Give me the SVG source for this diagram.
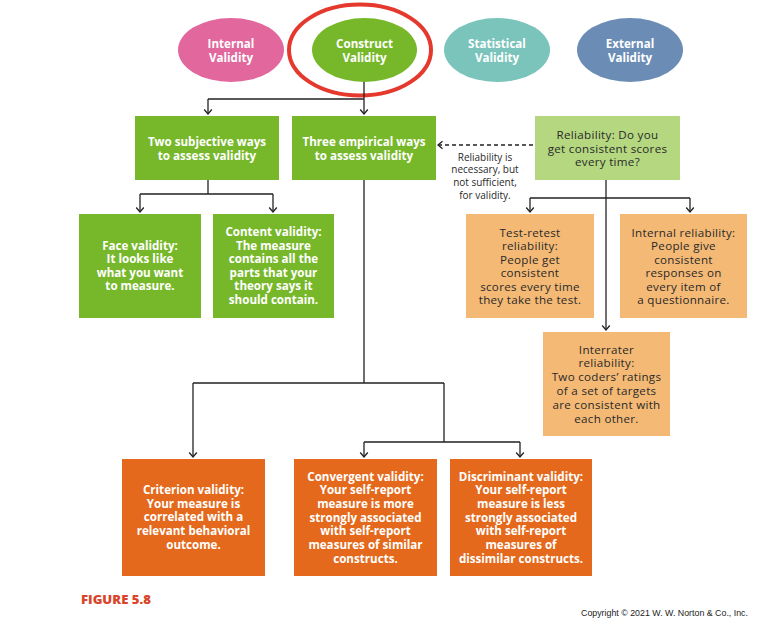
<svg xmlns="http://www.w3.org/2000/svg" width="772" height="636" viewBox="0 0 772 636">
<defs>
<marker id="ah" viewBox="0 0 10 10" refX="9" refY="5" markerWidth="10" markerHeight="10" markerUnits="userSpaceOnUse" orient="auto">
<path d="M4.5,1.2 L9,5 L4.5,8.8" fill="none" stroke="#222" stroke-width="1.3"/>
</marker>
</defs>
<style>
.w{font-family:"Open Sans","Liberation Sans",Arial,sans-serif;font-weight:700;font-size:11.6px;fill:#fff;text-anchor:middle}
.d{font-family:"Open Sans","Liberation Sans",Arial,sans-serif;font-weight:400;font-size:11.6px;letter-spacing:0.3px;fill:#2a2a2a;text-anchor:middle}
.n{font-family:"Open Sans","Liberation Sans",Arial,sans-serif;font-weight:400;font-size:10px;fill:#2a2a2a;text-anchor:middle}
.g{fill:#77b82b}
.lg{fill:#b4d780}
.lo{fill:#f4b975}
.do{fill:#e4691c}
.c{fill:none;stroke:#222;stroke-width:1.3}
</style>
<rect width="772" height="636" fill="#fff"/>

<g id="internal-validity">
<ellipse cx="231" cy="50" rx="53" ry="32" fill="#e1679d"/>
<text class="w" x="231" y="48">Internal</text>
<text class="w" x="231" y="62">Validity</text>
</g>
<g id="construct-validity">
<ellipse cx="364.5" cy="50" rx="52.5" ry="32" fill="#77b82b"/>
<text class="w" x="364.5" y="48">Construct</text>
<text class="w" x="364.5" y="62">Validity</text>
<ellipse cx="360" cy="50" rx="71" ry="45.5" fill="none" stroke="#e4392c" stroke-width="4"/>
</g>
<g id="statistical-validity">
<ellipse cx="497" cy="50" rx="53" ry="32" fill="#7ac4bb"/>
<text class="w" x="497" y="48">Statistical</text>
<text class="w" x="497" y="62">Validity</text>
</g>
<g id="external-validity">
<ellipse cx="630" cy="50" rx="53" ry="32" fill="#6b8db5"/>
<text class="w" x="630" y="48">External</text>
<text class="w" x="630" y="62">Validity</text>
</g>

<g id="connectors">
<path class="c" d="M364,82 V99 M208,99 H364"/>
<path class="c" d="M208,99 V114" marker-end="url(#ah)"/>
<path class="c" d="M364,99 V114" marker-end="url(#ah)"/>
<path class="c" d="M208,180 V194 M140,194 H273"/>
<path class="c" d="M140,194 V212" marker-end="url(#ah)"/>
<path class="c" d="M273,194 V212" marker-end="url(#ah)"/>
<path class="c" d="M364,180 V383 M193,383 H444 M444,383 V442 M364,442 H520"/>
<path class="c" d="M193,383 V457" marker-end="url(#ah)"/>
<path class="c" d="M364,442 V457" marker-end="url(#ah)"/>
<path class="c" d="M520,442 V457" marker-end="url(#ah)"/>
<path class="c" d="M606,180 V330" marker-end="url(#ah)"/>
<path class="c" d="M530,198 H690"/>
<path class="c" d="M530,198 V212" marker-end="url(#ah)"/>
<path class="c" d="M690,198 V212" marker-end="url(#ah)"/>
<path class="c" d="M533,145 H438" stroke-dasharray="4,3" marker-end="url(#ah)"/>
<text class="n" x="485" y="160.5">Reliability is</text>
<text class="n" x="485" y="173.2">necessary, but</text>
<text class="n" x="485" y="185.9">not sufficient,</text>
<text class="n" x="485" y="198.6">for validity.</text>
</g>

<g id="two-subjective">
<rect class="g" x="135" y="116" width="144" height="64"/>
<text class="w" x="207" y="146">Two subjective ways</text>
<text class="w" x="207" y="159.5">to assess validity</text>
</g>
<g id="three-empirical">
<rect class="g" x="292" y="116" width="144" height="64"/>
<text class="w" x="364" y="146">Three empirical ways</text>
<text class="w" x="364" y="159.5">to assess validity</text>
</g>
<g id="reliability">
<rect class="lg" x="535" y="116" width="145" height="64"/>
<text class="d" x="607.5" y="139">Reliability: Do you</text>
<text class="d" x="607.5" y="152.5">get consistent scores</text>
<text class="d" x="607.5" y="166">every time?</text>
</g>

<g id="face-validity">
<rect class="g" x="79" y="214" width="122" height="104"/>
<text class="w" x="140" y="249.5">Face validity:</text>
<text class="w" x="140" y="263">It looks like</text>
<text class="w" x="140" y="276.5">what you want</text>
<text class="w" x="140" y="290">to measure.</text>
</g>
<g id="content-validity">
<rect class="g" x="213" y="214" width="121" height="104"/>
<text class="w" x="273.5" y="236">Content validity:</text>
<text class="w" x="273.5" y="249.5">The measure</text>
<text class="w" x="273.5" y="263">contains all the</text>
<text class="w" x="273.5" y="276.5">parts that your</text>
<text class="w" x="273.5" y="290">theory says it</text>
<text class="w" x="273.5" y="303.5">should contain.</text>
</g>
<g id="test-retest">
<rect class="lo" x="466" y="214" width="128" height="104"/>
<text class="d" x="530" y="236.5">Test-retest</text>
<text class="d" x="530" y="250">reliability:</text>
<text class="d" x="530" y="263.5">People get</text>
<text class="d" x="530" y="277">consistent</text>
<text class="d" x="530" y="290.5">scores every time</text>
<text class="d" x="530" y="304">they take the test.</text>
</g>
<g id="internal-reliability">
<rect class="lo" x="620" y="214" width="127" height="104"/>
<text class="d" x="683.5" y="236.5">Internal reliability:</text>
<text class="d" x="683.5" y="250">People give</text>
<text class="d" x="683.5" y="263.5">consistent</text>
<text class="d" x="683.5" y="277">responses on</text>
<text class="d" x="683.5" y="290.5">every item of</text>
<text class="d" x="683.5" y="304">a questionnaire.</text>
</g>
<g id="interrater">
<rect class="lo" x="543" y="332" width="127" height="104"/>
<text class="d" x="606.5" y="353.5">Interrater</text>
<text class="d" x="606.5" y="367.3">reliability:</text>
<text class="d" x="606.5" y="381.1">Two coders’ ratings</text>
<text class="d" x="606.5" y="394.9">of a set of targets</text>
<text class="d" x="606.5" y="408.7">are consistent with</text>
<text class="d" x="606.5" y="422.5">each other.</text>
</g>

<g id="criterion-validity">
<rect class="do" x="122" y="459" width="143" height="117"/>
<text class="w" x="193.5" y="494">Criterion validity:</text>
<text class="w" x="193.5" y="507.7">Your measure is</text>
<text class="w" x="193.5" y="521.4">correlated with a</text>
<text class="w" x="193.5" y="535.1">relevant behavioral</text>
<text class="w" x="193.5" y="548.8">outcome.</text>
</g>
<g id="convergent-validity">
<rect class="do" x="294" y="459" width="143" height="117"/>
<text class="w" x="365.5" y="480.5">Convergent validity:</text>
<text class="w" x="365.5" y="494.2">Your self-report</text>
<text class="w" x="365.5" y="507.9">measure is more</text>
<text class="w" x="365.5" y="521.6">strongly associated</text>
<text class="w" x="365.5" y="535.3">with self-report</text>
<text class="w" x="365.5" y="549">measures of similar</text>
<text class="w" x="365.5" y="562.7">constructs.</text>
</g>
<g id="discriminant-validity">
<rect class="do" x="450" y="459" width="142" height="117"/>
<text class="w" x="521" y="480.5">Discriminant validity:</text>
<text class="w" x="521" y="494.2">Your self-report</text>
<text class="w" x="521" y="507.9">measure is less</text>
<text class="w" x="521" y="521.6">strongly associated</text>
<text class="w" x="521" y="535.3">with self-report</text>
<text class="w" x="521" y="549">measures of</text>
<text class="w" x="521" y="562.7">dissimilar constructs.</text>
</g>

<text x="81" y="603.5" font-family="'Open Sans','Liberation Sans',Arial,sans-serif" font-weight="800" font-size="12" fill="#d9442a" textLength="70" lengthAdjust="spacingAndGlyphs">FIGURE 5.8</text>
<text x="581" y="616" font-family="'Liberation Sans',Arial,sans-serif" font-size="8.6" fill="#222" textLength="167" lengthAdjust="spacingAndGlyphs">Copyright © 2021 W. W. Norton &amp; Co., Inc.</text>
</svg>
